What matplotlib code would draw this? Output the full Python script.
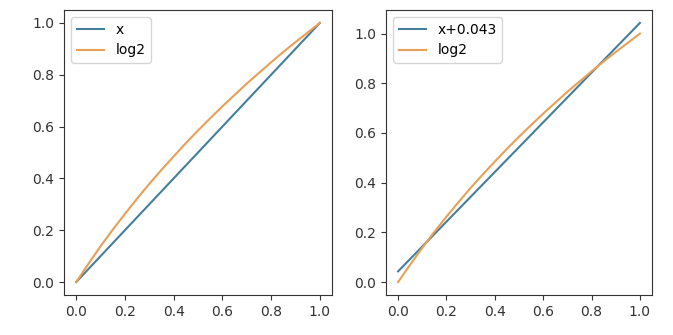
import numpy as np
import matplotlib
matplotlib.use("Agg")
import matplotlib.pyplot as plt

# sample positions on [0, 1]
xs = [0.00, 0.05, 0.10, 0.15, 0.20, 0.25, 0.30, 0.35, 0.40, 0.45, 0.50,
      0.55, 0.60, 0.65, 0.70, 0.75, 0.80, 0.85, 0.90, 0.95, 1.00]
# log2 curve values at those positions
log2_vals = [0.000, 0.070, 0.138, 0.202, 0.263, 0.322, 0.379, 0.433, 0.485,
             0.536, 0.585, 0.632, 0.678, 0.722, 0.766, 0.807, 0.848, 0.888,
             0.926, 0.963, 1.000]
offset = 0.043

blue = "#457f9c"
orange = "#e8a056"

xs_arr = np.array(xs)

fig = plt.figure(figsize=(6.73, 3.35), dpi=100)
ax1 = fig.add_axes([64 / 673, 40 / 335, 268 / 673, 285 / 335])
ax2 = fig.add_axes([386 / 673, 40 / 335, 266 / 673, 285 / 335])

ax1.plot(xs_arr, xs_arr, color=blue, lw=1.5, label="x")
ax1.plot(xs_arr, log2_vals, color=orange, lw=1.5, label="log2")
ax1.legend(loc="upper left")

ax2.plot(xs_arr, xs_arr + offset, color=blue, lw=1.5, label=f"x+{offset}")
ax2.plot(xs_arr, log2_vals, color=orange, lw=1.5, label="log2")
ax2.legend(loc="upper left")

for ax in (ax1, ax2):
    ax.set_xticks([0.0, 0.2, 0.4, 0.6, 0.8, 1.0])
    ax.set_yticks([0.0, 0.2, 0.4, 0.6, 0.8, 1.0])
    ax.tick_params(colors="#333333", labelcolor="#333333")
    for s in ax.spines.values():
        s.set_color("#333333")

fig.savefig("out.png", dpi=100)
